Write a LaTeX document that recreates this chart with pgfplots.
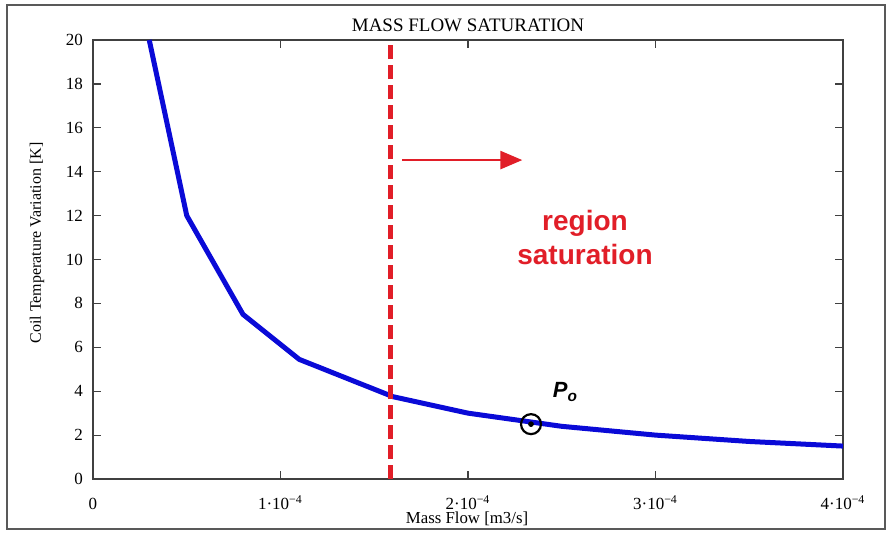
\documentclass[border=0pt]{standalone}
\usepackage{pgfplots}
\pgfplotsset{compat=1.18}
\usepackage{fontspec}
\setmainfont{Liberation Serif}
\newfontfamily\arial{Liberation Sans}
\usetikzlibrary{arrows.meta}
\definecolor{curveblue}{RGB}{10,10,215}
\definecolor{satred}{RGB}{225,30,40}
\begin{document}
\begin{tikzpicture}
  % whole picture: 890x532 px at 0.5pt per px, origin at the axis corner
  \path[use as bounding box] (-46.5pt,-26.5pt) rectangle (398.5pt,239.5pt);
  \draw[line width=1pt, black!65] (-43pt,-25pt) rectangle (396pt,237pt);
  \begin{axis}[
      at={(0,0)}, anchor=south west,
      scale only axis, width=375pt, height=219.5pt,
      xmin=0, xmax=4e-4, ymin=0, ymax=20,
      xtick={0,1e-4,2e-4,3e-4,4e-4},
      xticklabels={0, 1·10\textsuperscript{−4}, 2·10\textsuperscript{−4},
        3·10\textsuperscript{−4}, 4·10\textsuperscript{−4}},
      scaled x ticks=false,
      ytick={0,2,...,20},
      /pgf/number format/assume math mode=true,
      tick align=inside, major tick length=4pt,
      axis line style={black!75, line width=0.7pt},
      every tick/.style={black!75, line width=0.6pt},
      tick label style={font=\fontsize{8.5}{10}\selectfont},
      xticklabel style={anchor=base, yshift=-15pt},
      yticklabel style={xshift=-1.5pt},
      every axis title shift=0pt,
      title={MASS FLOW SATURATION},
      title style={at={(axis description cs:0.5,1.034)}, anchor=center,
        font=\fontsize{9.5}{11}\selectfont},
      xlabel={Mass Flow [m3/s]},
      xlabel style={at={(axis description cs:0.4987,-0.0911)}, anchor=center,
        font=\fontsize{8.4}{10}\selectfont},
      ylabel={Coil Temperature Variation [K]},
      ylabel style={at={(axis description cs:-0.0747,0.5376)}, anchor=center,
        rotate=0, font=\fontsize{8}{10}\selectfont},
      clip=false
    ]
    % temperature variation curve
    \addplot[curveblue, line width=2.5pt, line join=round] coordinates {
      (3e-5,20) (5e-5,12) (8e-5,7.5) (1.1e-4,5.45) (1.6e-4,3.75)
      (2e-4,3.0) (2.5e-4,2.4) (3e-4,2.0) (3.5e-4,1.71) (4e-4,1.5)};
    % saturation limit
    \addplot[satred, line width=2.5pt, dash pattern=on 7pt off 3pt] coordinates {
      (1.585e-4,0) (1.585e-4,20)};
    % arrow into the saturation region
    \addplot[satred, line width=1.3pt, -{Triangle[length=11pt,width=9pt]}] coordinates {
      (1.648e-4,14.53) (2.29e-4,14.53)};
    % operating point
    \addplot[only marks, mark=o, mark size=5pt, mark options={line width=1.1pt, black}]
      coordinates {(2.336e-4,2.5)};
    \addplot[only marks, mark=*, mark size=1.2pt, black] coordinates {(2.336e-4,2.5)};
    \node[font=\arial\bfseries\itshape\fontsize{11}{13}\selectfont] at (axis cs:2.52e-4,3.96)
      {P\textsubscript{o}};
    \node[satred, align=center, font=\arial\bfseries\fontsize{14}{17}\selectfont]
      at (axis cs:2.624e-4,11.0) {region\\saturation};
  \end{axis}
\end{tikzpicture}
\end{document}
